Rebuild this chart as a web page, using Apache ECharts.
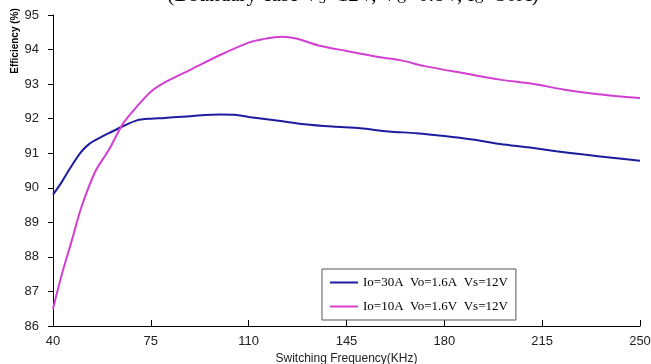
<!DOCTYPE html>
<html><head><meta charset="utf-8">
<script src="https://cdn.jsdelivr.net/npm/echarts@6/dist/echarts.min.js"></script>
<style>html,body{margin:0;padding:0;background:#fff}#c{width:651px;height:364px}</style>
</head><body><div id="c"></div>
<script>
var freqA = [40, 43, 46, 50, 53, 57, 60, 65, 70, 75, 80, 90, 100, 105, 110, 120, 130, 140, 150, 160, 170, 180, 190, 200, 210, 220, 230, 240, 250];
var effA  = [89.8, 90.15, 90.55, 91.03, 91.27, 91.46, 91.58, 91.78, 91.95, 92.0, 92.02, 92.08, 92.12, 92.11, 92.05, 91.95, 91.84, 91.77, 91.72, 91.63, 91.58, 91.5, 91.4, 91.27, 91.17, 91.06, 90.96, 90.87, 90.78];
var freqB = [40, 43, 47, 50, 55, 60, 65, 70, 75, 80, 90, 100, 110, 115, 122, 127, 135, 145, 157, 165, 173, 188, 200, 212, 223, 235, 250];
var effB  = [86.5, 87.45, 88.55, 89.4, 90.45, 91.1, 91.85, 92.35, 92.78, 93.05, 93.45, 93.85, 94.2, 94.3, 94.37, 94.32, 94.12, 93.96, 93.78, 93.68, 93.52, 93.3, 93.13, 93.0, 92.84, 92.71, 92.6];
var nameA = 'Io=30A  Vo=1.6A  Vs=12V';
var nameB = 'Io=10A  Vo=1.6V  Vs=12V';
var xTicks = [40, 75, 110, 145, 180, 215, 250];
var yTicks = [86, 87, 88, 89, 90, 91, 92, 93, 94, 95];

function pairs(xs, ys){ return xs.map(function(x,i){ return [x, ys[i]]; }); }

var chart = echarts.init(document.getElementById('c'));
chart.setOption({
  animation: false,
  backgroundColor: '#fff',
  grid: { left: 53, right: 11, top: 15, bottom: 38, outerBoundsMode: 'none', containLabel: false },
  xAxis: {
    type: 'value', min: xTicks[0], max: xTicks[xTicks.length-1], interval: 35,
    axisLine: { lineStyle: { color: '#000', width: 1 } },
    axisTick: { inside: true, length: 6, lineStyle: { color: '#000' } },
    splitLine: { show: false },
    axisLabel: { color: '#222', fontFamily: 'Liberation Sans', fontSize: 13, margin: 9 },
    name: 'Switching Frequency(KHz)', nameLocation: 'middle', nameGap: 25,
    nameTextStyle: { color: '#222', fontFamily: 'Liberation Sans', fontSize: 12 }
  },
  yAxis: {
    type: 'value', min: yTicks[0], max: yTicks[yTicks.length-1], interval: 1,
    axisLine: { show: true, lineStyle: { color: '#000', width: 1 } },
    axisTick: { show: true, length: 5, lineStyle: { color: '#000' } },
    splitLine: { show: false },
    axisLabel: { color: '#222', fontFamily: 'Liberation Sans', fontSize: 13, margin: 14 }
  },
  legend: {
    orient: 'vertical', left: 322, top: 269,
    backgroundColor: '#fff', borderColor: '#555', borderWidth: 1,
    padding: [7, 8, 7, 8], itemGap: 11,
    itemWidth: 28, itemHeight: 2, icon: 'rect',
    textStyle: { fontFamily: 'Liberation Serif', fontSize: 13, color: '#000' },
    data: [nameA, nameB]
  },
  graphic: [
    { type: 'text', x: 353, y: -16,
      style: { text: '(Boundary case V{s|S}=12V, V{s|O}=0.8V, I{s|O}=30A)',
        font: '21px "Liberation Serif"', fill: '#000', align: 'center',
        rich: { s: { fontSize: 13, fontFamily: 'Liberation Serif', padding: [9,0,0,0] } } } },
    { type: 'text', x: 15, y: 41, rotation: Math.PI/2, originX: 0, originY: 0,
      style: { text: 'Efficiency (%)', font: 'bold 10px "Liberation Sans"', fill: '#000', align: 'center', verticalAlign: 'middle' } }
  ],
  series: [
    { name: nameA, type: 'line', data: pairs(freqA, effA), smooth: 0.3, showSymbol: false,
      color: '#1c1c9e', lineStyle: { width: 2, color: '#1c1c9e' } },
    { name: nameB, type: 'line', data: pairs(freqB, effB), smooth: 0.3, showSymbol: false,
      color: '#d23fd2', lineStyle: { width: 2, color: '#d23fd2' } }
  ]
});
</script></body></html>
